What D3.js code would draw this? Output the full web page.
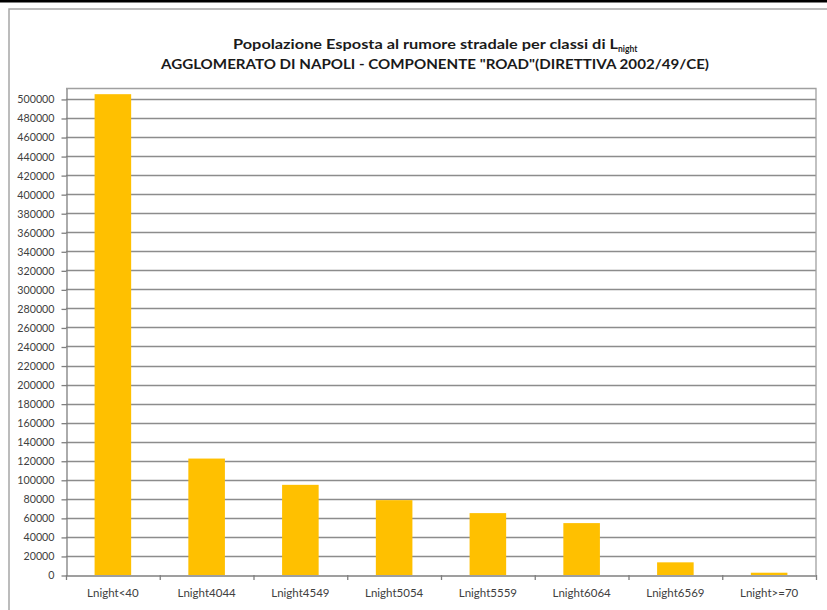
<!DOCTYPE html>
<html>
<head>
<meta charset="utf-8">
<script src="https://cdn.jsdelivr.net/npm/d3@7"></script>
<style>
  html, body { margin: 0; padding: 0; background: #fff; }
  svg { display: block; }
  text { font-family: Lato, "Open Sans", sans-serif; }
</style>
</head>
<body>
<svg id="chart" width="827" height="610"></svg>
<script>
const categories = ["Lnight<40", "Lnight4044", "Lnight4549", "Lnight5054", "Lnight5559", "Lnight6064", "Lnight6569", "Lnight>=70"];
const values = [505000, 122300, 94700, 78600, 65000, 54500, 13300, 2400];
const yTicks = d3.range(0, 500001, 20000);
const titleLine1 = "Popolazione Esposta al rumore stradale per classi di L";
const titleSub = "night";
const titleLine2 = "AGGLOMERATO DI NAPOLI - COMPONENTE \"ROAD\"(DIRETTIVA 2002/49/CE)";

const svg = d3.select("#chart");
const W = 827, H = 610;
const plot = { left: 66, right: 816, top: 88, bottom: 575 };

// top black band and chart border
svg.append("rect").attr("x", 0).attr("y", 0).attr("width", W).attr("height", 2.5).attr("fill", "#000");
svg.append("path")
  .attr("d", `M9,${H} V9 H${W}`)
  .attr("fill", "none").attr("stroke", "#a6a6a6").attr("stroke-width", 1.5);

const x = d3.scaleBand().domain(categories).range([plot.left, plot.right]).paddingInner(0.61).paddingOuter(0.305);
const xCat = d3.scaleBand().domain(categories).range([plot.left, plot.right]);
const y = d3.scaleLinear().domain([0, 511500]).range([plot.bottom, plot.top]);

// gridlines
svg.append("g").selectAll("line").data(yTicks.filter(d => d > 0)).join("line")
  .attr("x1", plot.left).attr("x2", plot.right)
  .attr("y1", d => Math.round(y(d)) + 0.5).attr("y2", d => Math.round(y(d)) + 0.5)
  .attr("stroke", "#8c8c8c").attr("stroke-width", 1.3);

// plot area top & right border
svg.append("path")
  .attr("d", `M${plot.left},${plot.top + 0.5} H${plot.right} V${plot.bottom}`)
  .attr("fill", "none").attr("stroke", "#a0a0a0").attr("stroke-width", 1.3);

// bars
svg.append("g").selectAll("rect").data(values).join("rect")
  .attr("x", (d, i) => x(categories[i]))
  .attr("width", x.bandwidth())
  .attr("y", d => y(d))
  .attr("height", d => y(0) - y(d))
  .attr("fill", "#FFC000");

// y axis
const yAxis = d3.axisLeft(y).tickValues(yTicks).tickSize(5).tickSizeOuter(0).tickPadding(7).tickFormat(d3.format("d"));
const gy = svg.append("g").attr("transform", `translate(${plot.left + 0.5},0.5)`).call(yAxis);
gy.select(".domain").attr("stroke", "#7f7f7f").attr("stroke-width", 1.3);
gy.selectAll(".tick line").attr("stroke", "#7f7f7f").attr("stroke-width", 1.3);
gy.selectAll(".tick text").attr("font-size", "10.7px").attr("fill", "#404040").attr("font-family", "Lato, sans-serif");

// x axis
const xAxis = d3.axisBottom(xCat).tickSize(0).tickPadding(13);
const gx = svg.append("g").attr("transform", `translate(0,${plot.bottom + 0.5})`).call(xAxis);
gx.select(".domain").attr("stroke", "#7f7f7f").attr("stroke-width", 1.3);
gx.selectAll(".tick text").attr("font-size", "11.5px").attr("fill", "#404040").attr("font-family", "Lato, sans-serif");
// category separator ticks
svg.append("g").selectAll("line").data(d3.range(categories.length + 1)).join("line")
  .attr("x1", i => plot.left + i * xCat.step() + 0.5).attr("x2", i => plot.left + i * xCat.step() + 0.5)
  .attr("y1", plot.bottom).attr("y2", plot.bottom + 5)
  .attr("stroke", "#7f7f7f").attr("stroke-width", 1.3);

// title
const t1 = svg.append("text").attr("x", 233).attr("y", 49).attr("text-anchor", "start")
  .attr("font-size", "13.5px").attr("font-weight", "bold").attr("fill", "#1a1a1a");
t1.append("tspan").attr("textLength", 385).attr("lengthAdjust", "spacingAndGlyphs").text(titleLine1);
t1.append("tspan").attr("font-size", "8.5px").attr("dy", 2.5).text(titleSub);
svg.append("text").attr("x", 435).attr("y", 69).attr("text-anchor", "middle")
  .attr("font-size", "13.5px").attr("font-weight", "bold").attr("fill", "#1a1a1a")
  .attr("textLength", 548).attr("lengthAdjust", "spacingAndGlyphs")
  .text(titleLine2);
</script>
</body>
</html>
